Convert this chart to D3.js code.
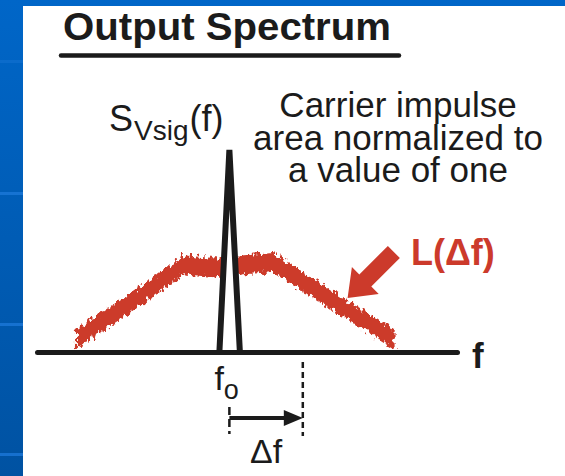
<!DOCTYPE html>
<html>
<head>
<meta charset="utf-8">
<script src="https://cdn.jsdelivr.net/npm/d3@7"></script>
<style>
  body { margin: 0; background: #fff; }
  svg { display: block; }
  text { font-family: "Liberation Sans", Arial, sans-serif; }
</style>
</head>
<body>
<svg id="chart" width="565" height="476"></svg>
<script>
// offsets in units of Δf, f0 = 0 ; levels normalized so carrier = 1
const noiseFreq = [-2.09, -1.35, -0.62, -0.33, -0.06, 0.21, 0.59, 1.37, 2.25];
const noiseLevel = [0.06, 0.24, 0.43, 0.42, 0.41, 0.43, 0.44, 0.26, 0.06];
const carrierFreq = [-0.136, 0, 0.143];
const carrierLevel = [0, 1, 0];
const axisExtent = [-2.62, 3.1];
const deltaF = 1;
const arrowTip = [1.61, 0.267];
const arrowTail = [2.24, 0.495];

const titleText = "Output Spectrum";
const noteLines = ["Carrier impulse", "area normalized to", "a value of one"];

const red = "#cc3a2b";
const ink = "#1b1b1b";

const svg = d3.select("#chart");
const W = +svg.attr("width"), H = +svg.attr("height");

// slide background
const defs = svg.append("defs");
const grad = defs.append("linearGradient").attr("id", "bg").attr("x1", 0).attr("y1", 0).attr("x2", 0).attr("y2", 1);
grad.append("stop").attr("offset", "0%").attr("stop-color", "#0066c8");
grad.append("stop").attr("offset", "100%").attr("stop-color", "#0052a2");

const rough = defs.append("filter").attr("id", "rough")
  .attr("x", "-5%").attr("y", "-20%").attr("width", "110%").attr("height", "140%");
rough.append("feTurbulence").attr("type", "fractalNoise").attr("baseFrequency", "0.3 0.18")
  .attr("numOctaves", 2).attr("seed", 11).attr("result", "n");
rough.append("feDisplacementMap").attr("in", "SourceGraphic").attr("in2", "n")
  .attr("scale", 11).attr("xChannelSelector", "R").attr("yChannelSelector", "G");

svg.append("rect").attr("width", W).attr("height", H).attr("fill", "url(#bg)");
svg.selectAll(".stripe").data([60, 192, 323, 453]).enter().append("rect")
  .attr("x", 0).attr("y", d => d).attr("width", 23).attr("height", 3)
  .attr("fill", "#1c78d8").attr("opacity", (d, i) => i === 0 ? 0.4 : 0.8);
svg.append("rect").attr("x", 23).attr("y", 6).attr("width", W - 23).attr("height", H - 6).attr("fill", "#fff");

// title
svg.append("text").attr("x", 63).attr("y", 40).attr("font-size", 38).attr("font-weight", "bold")
  .attr("textLength", 328).attr("lengthAdjust", "spacingAndGlyphs")
  .attr("fill", ink).text(titleText);
svg.append("line").attr("x1", 61).attr("x2", 399).attr("y1", 55.5).attr("y2", 55.5)
  .attr("stroke", ink).attr("stroke-width", 4.5).attr("stroke-linecap", "round");

// scales
const x = d3.scaleLinear().domain(axisExtent).range([37, 457]);
const y = d3.scaleLinear().domain([0, 1]).range([352, 150]);

// phase noise band
const noise = noiseFreq.map((f, i) => ({ f, v: noiseLevel[i] }));
const band = d3.area().x(d => x(d.f)).y0(d => y(d.v) + 9).y1(d => y(d.v) - 10);
svg.append("path").datum(noise).attr("d", band).attr("fill", red).attr("filter", "url(#rough)");

// carrier impulse
const carrier = carrierFreq.map((f, i) => ({ f, v: carrierLevel[i] }));
svg.append("path").datum(carrier)
  .attr("d", d3.line().x(d => x(d.f)).y(d => y(d.v)))
  .attr("fill", "#fff").attr("stroke", ink).attr("stroke-width", 6).attr("stroke-linejoin", "miter");

// frequency axis
const gx = svg.append("g").attr("transform", `translate(0,${y(0)})`)
  .call(d3.axisBottom(x).tickValues([]).tickSizeOuter(0));
gx.select(".domain").attr("stroke", ink).attr("stroke-width", 5).attr("stroke-linecap", "round");

svg.append("text").attr("x", x(axisExtent[1]) + 15).attr("y", y(0) + 16)
  .attr("font-size", 35).attr("font-weight", "bold").attr("fill", ink).text("f");

// f0 label
const f0 = svg.append("text").attr("x", x(0) - 15).attr("y", y(0) + 38).attr("font-size", 34).attr("fill", ink);
f0.append("tspan").text("f");
f0.append("tspan").attr("font-size", 27).attr("dy", 9).text("o");

// Δf marker
const yMark = y(0) + 66;
svg.append("line").attr("x1", x(deltaF)).attr("x2", x(deltaF)).attr("y1", y(0) + 10).attr("y2", y(0) + 84)
  .attr("stroke", ink).attr("stroke-width", 2.5).attr("stroke-dasharray", "6,4");
svg.append("line").attr("x1", x(0)).attr("x2", x(0)).attr("y1", y(0) + 55).attr("y2", y(0) + 82)
  .attr("stroke", ink).attr("stroke-width", 2.5).attr("stroke-dasharray", "8,4");
svg.append("line").attr("x1", x(0)).attr("x2", x(deltaF) - 14).attr("y1", yMark).attr("y2", yMark)
  .attr("stroke", ink).attr("stroke-width", 4);
svg.append("path")
  .attr("d", `M${x(deltaF)},${yMark}L${x(deltaF) - 19},${yMark - 8}L${x(deltaF) - 19},${yMark + 8}Z`)
  .attr("fill", ink);
svg.append("text").attr("x", (x(0) + x(deltaF)) / 2).attr("y", y(0) + 111)
  .attr("text-anchor", "middle").attr("font-size", 34).attr("fill", ink).text("Δf");

// red pointer to the noise
const tip = [x(arrowTip[0]), y(arrowTip[1])];
const tail = [x(arrowTail[0]), y(arrowTail[1])];
const dx = tail[0] - tip[0], dy = tail[1] - tip[1];
const len = Math.hypot(dx, dy), ux = dx / len, uy = dy / len, nx = -uy, ny = ux;
const headL = 25, headW = 19, shaftW = 8.5;
const hb = [tip[0] + ux * headL, tip[1] + uy * headL];
const pts = [
  tip,
  [hb[0] + nx * headW, hb[1] + ny * headW],
  [hb[0] + nx * shaftW, hb[1] + ny * shaftW],
  [tail[0] + nx * shaftW, tail[1] + ny * shaftW],
  [tail[0] - nx * shaftW, tail[1] - ny * shaftW],
  [hb[0] - nx * shaftW, hb[1] - ny * shaftW],
  [hb[0] - nx * headW, hb[1] - ny * headW]
];
svg.append("path").attr("d", d3.line()(pts) + "Z").attr("fill", red);
svg.append("text").attr("x", 411).attr("y", 265).attr("font-size", 36).attr("font-weight", "bold")
  .attr("fill", red).text("L(Δf)");

// labels
const sv = svg.append("text").attr("x", 109).attr("y", 131).attr("font-size", 36).attr("fill", ink);
sv.append("tspan").text("S");
sv.append("tspan").attr("font-size", 28).attr("dx", 1).attr("dy", 9).text("Vsig");
sv.append("tspan").attr("dx", 1).attr("dy", -9).text("(f)");

svg.append("text").attr("x", 398).attr("font-size", 35).attr("fill", ink).attr("text-anchor", "middle")
  .selectAll("tspan").data(noteLines).enter().append("tspan")
  .attr("x", 398).attr("y", (d, i) => 117 + i * 32.5).text(d => d);
</script>
</body>
</html>
